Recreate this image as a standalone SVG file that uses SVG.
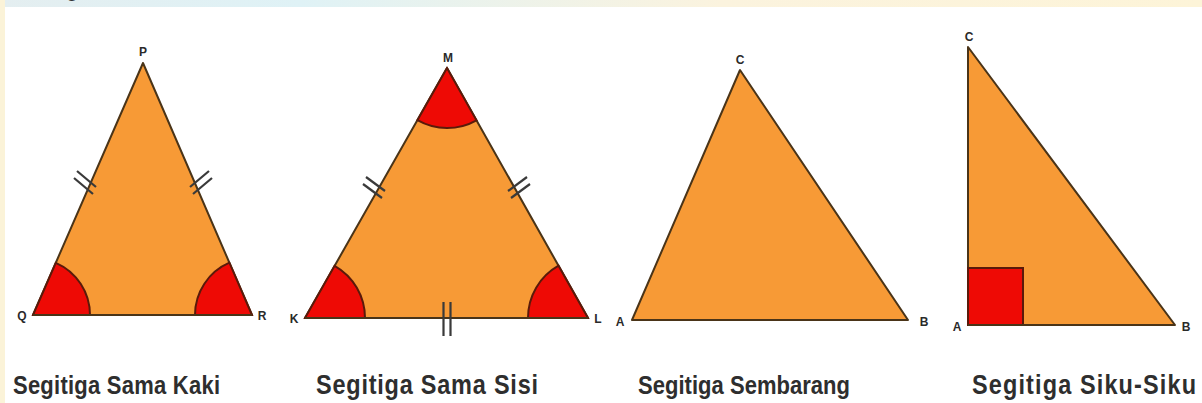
<svg xmlns="http://www.w3.org/2000/svg" width="1202" height="403" viewBox="0 0 1202 403">
<defs>
<linearGradient id="band" x1="0" y1="0" x2="1" y2="0">
<stop offset="0" stop-color="#e4eef0"/>
<stop offset="0.25" stop-color="#dff2f6"/>
<stop offset="0.6" stop-color="#fbf3de"/>
<stop offset="1" stop-color="#fdf4d8"/>
</linearGradient>
<style>
.tri{fill:#F79A36;stroke:#4a3418;stroke-width:2;stroke-linejoin:round}
.ang{fill:#EE0A05;stroke:#5a1a0a;stroke-width:2}
.tick{stroke:#3a3a3a;stroke-width:2.2;fill:none}
.v{font-family:"Liberation Sans",Arial,sans-serif;font-weight:bold;font-size:12px;fill:#2a2a2a;text-anchor:middle}
.cap{font-family:"Liberation Sans",Arial,sans-serif;font-weight:bold;font-size:22px;fill:#2e2e2e}
.big{font-size:23.5px}
</style>
</defs>
<rect x="0" y="0" width="1202" height="403" fill="#ffffff"/>
<rect x="0" y="0" width="1202" height="7" fill="url(#band)"/>
<rect x="0" y="0" width="5" height="403" fill="#fbf3d8"/>
<text x="66" y="-4" class="cap" style="font-weight:normal;fill:#333">g</text>

<g id="sama-kaki">
<polygon class="tri" points="143,63 33,315 252,315"/>
<path class="ang" d="M33,315 L90,315 A57,57 0 0 0 55.8,262.8 Z"/>
<path class="ang" d="M252,315 L195,315 A57,57 0 0 1 229.4,262.7 Z"/>
<line class="tri" x1="33" y1="315" x2="252" y2="315"/>
<g class="tick">
<line x1="77" y1="171" x2="96" y2="187"/>
<line x1="74" y1="178" x2="93" y2="194"/>
<line x1="209" y1="171" x2="190" y2="187"/>
<line x1="212" y1="178" x2="193" y2="194"/>
</g>
<text class="v" x="143" y="56">P</text>
<text class="v" x="22" y="320">Q</text>
<text class="v" x="262" y="320">R</text>
<text class="cap" x="0" y="0" transform="translate(13,394) scale(1,1.2)" textLength="207" lengthAdjust="spacing">Segitiga Sama Kaki</text>
</g>

<g id="sama-sisi">
<polygon class="tri" points="447,68 305,318 588,318"/>
<path class="ang" d="M447,68 L417.4,120.2 A60,60 0 0 0 476.5,120.3 Z"/>
<path class="ang" d="M305,318 L365,318 A60,60 0 0 0 334.6,265.8 Z"/>
<path class="ang" d="M588,318 L528,318 A60,60 0 0 1 558.5,265.7 Z"/>
<line class="tri" x1="305" y1="318" x2="588" y2="318"/>
<g class="tick">
<line x1="366" y1="177" x2="385" y2="191"/>
<line x1="363" y1="184" x2="382" y2="198"/>
<line x1="527" y1="177" x2="508" y2="191"/>
<line x1="530" y1="184" x2="511" y2="198"/>
<line x1="443.5" y1="302" x2="443.5" y2="336"/>
<line x1="450.5" y1="302" x2="450.5" y2="336"/>
</g>
<text class="v" x="448" y="62">M</text>
<text class="v" x="294" y="323">K</text>
<text class="v" x="598" y="323">L</text>
<text class="cap big" x="0" y="0" transform="translate(316,394) scale(1,1.15)" textLength="222" lengthAdjust="spacing">Segitiga Sama Sisi</text>
</g>

<g id="sembarang">
<polygon class="tri" points="740,70 632,320 908,320"/>
<text class="v" x="740" y="64">C</text>
<text class="v" x="620" y="326">A</text>
<text class="v" x="924" y="326">B</text>
<text class="cap" x="0" y="0" transform="translate(638,394) scale(1,1.2)" textLength="212" lengthAdjust="spacing">Segitiga Sembarang</text>
</g>

<g id="siku-siku">
<polygon class="tri" points="968,47 968,325 1175,325"/>
<rect class="ang" x="968" y="268" width="55" height="57"/>
<line class="tri" x1="968" y1="325" x2="1175" y2="325"/>
<text class="v" x="969" y="41">C</text>
<text class="v" x="957" y="331">A</text>
<text class="v" x="1186" y="331">B</text>
<text class="cap big" x="0" y="0" transform="translate(972,394) scale(1,1.15)" textLength="224" lengthAdjust="spacing">Segitiga Siku-Siku</text>
</g>
<g id="connectors"></g>
</svg>
